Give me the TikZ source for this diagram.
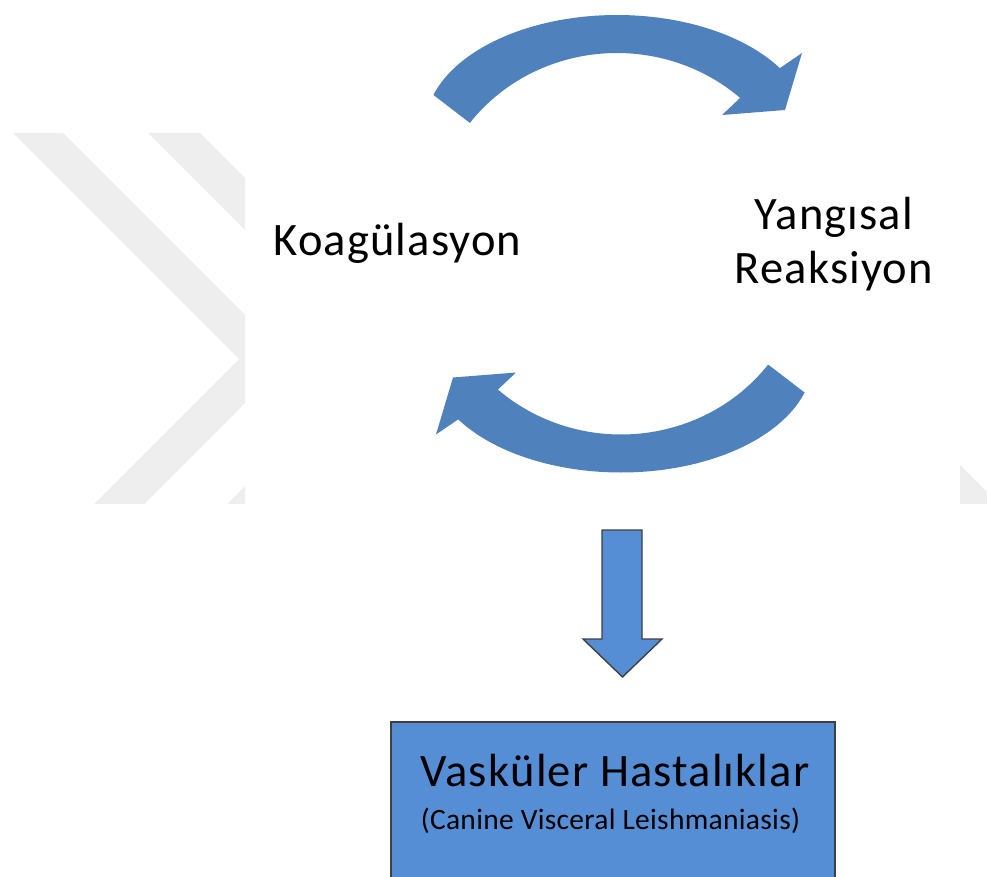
\documentclass[tikz,border=0pt]{standalone}
\usepackage{fontspec}
\setmainfont{Carlito}
\newfontfamily\spacedfont[LetterSpace=2.5]{Carlito}
\newfontfamily\spacedsmall[LetterSpace=1]{Carlito}
\definecolor{arrowblue}{RGB}{79,129,189}
\definecolor{boxblue}{RGB}{85,142,213}
\definecolor{wmgray}{RGB}{238,238,238}
\newcommand{\cyclearrowshape}{%
  plot[domain=163:32, samples=80, variable=\t] ({617+192*cos(\t)},{128-113*sin(\t)})
  -- (802,53) -- (785,110) -- (722,115) -- (740,98)
  -- plot[domain=48:143.1, samples=80, variable=\t] ({617+184*cos(\t)},{228-175*sin(\t)})
  -- cycle}
\tikzset{
  wm/.style={fill=wmgray, draw=none},
  curved/.style={fill=arrowblue, draw=none},
  blockshape/.style={fill=boxblue, draw=black!75, line width=1.4pt, line join=miter},
  bigtext/.style={font=\spacedfont\fontsize{46.5}{53}\selectfont, inner sep=0pt, anchor=base, text=black},
  smalltext/.style={font=\spacedsmall\fontsize{29.5}{34}\selectfont, inner sep=0pt, anchor=base, text=black}
}
\begin{document}
\begin{tikzpicture}[x=1pt,y=-1pt]
\useasboundingbox (0,0) rectangle (987,877);
% watermark remnants
\fill[wm] (13,133) -- (63,133) -- (245,315) -- (245,403) -- (144,504) -- (94,504) -- (239,359) -- cycle;
\fill[wm] (148,133) -- (200,133) -- (245,178) -- (245,230) -- cycle;
\fill[wm] (227,504) -- (245,486) -- (245,504) -- cycle;
\fill[wm] (960,465) -- (987,492) -- (987,504) -- (960,504) -- cycle;
% cycle arrows
\fill[curved] \cyclearrowshape;
\begin{scope}[rotate around={180:(619,243.75)}]
\fill[curved] \cyclearrowshape;
\end{scope}
% labels
\node[bigtext] (koag) at (397.5,255) {Koagülasyon};
\node[bigtext] (yang) at (834,230) {Yangısal};
\node[bigtext] (reak) at (834,283) {Reaksiyon};
% down arrow
\draw[blockshape] (602,530) -- (642,530) -- (642,639) -- (662,639) -- (622.5,677) -- (583,639) -- (602,639) -- cycle;
% box
\node[blockshape, minimum width=444pt, minimum height=158pt, inner sep=0pt] (box) at (613,801) {};
\node[bigtext] (vask) at (615,786) {Vasküler Hastalıklar};
\node[smalltext] (cvl) at (610.5,829) {(Canine Visceral Leishmaniasis)};
\end{tikzpicture}
\end{document}
